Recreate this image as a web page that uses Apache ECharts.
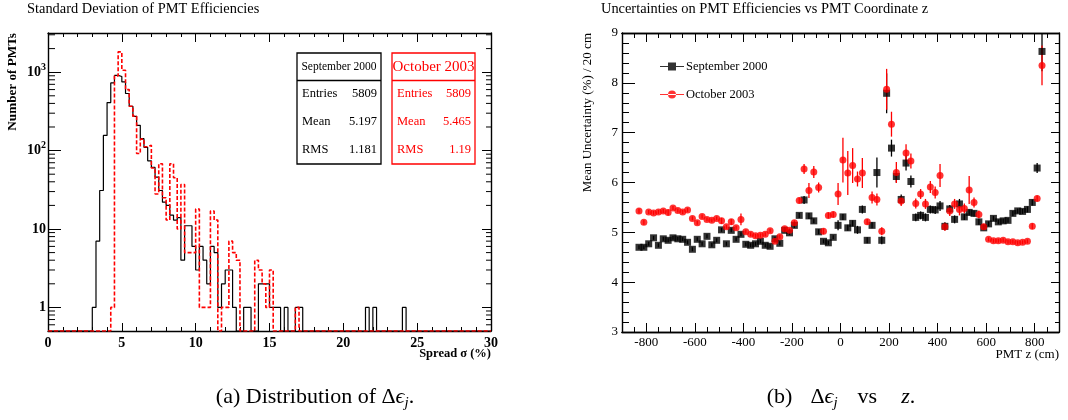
<!DOCTYPE html>
<html>
<head>
<meta charset="utf-8">
<script src="https://cdn.jsdelivr.net/npm/echarts@6/dist/echarts.min.js"></script>
<style>
  html, body { margin: 0; padding: 0; background: #fff; }
  #main { width: 1068px; height: 420px; }
</style>
</head>
<body>
<div id="main"></div>
<script>
// ---- (a) spread of PMT efficiencies, 0.25 % bins ----
const sepBinLow = [3.00, 3.25, 3.50, 3.75, 4.00, 4.25, 4.50, 4.75, 5.00, 5.25,
  5.50, 5.75, 6.00, 6.25, 6.50, 6.75, 7.00, 7.25, 7.50, 7.75,
  8.00, 8.25, 8.50, 8.75, 9.00, 9.25, 9.50, 9.75, 10.00, 10.25,
  10.50, 10.75, 11.00, 11.25, 11.50, 11.75, 12.00, 12.25, 12.50,
  13.25, 13.50, 14.25, 14.50, 14.75, 15.00, 15.25, 15.50, 16.00,
  16.75, 17.00, 21.50, 22.00, 24.00];
const sepCounts = [1, 7, 31, 156, 410, 730, 910, 880, 752, 535,
  368, 274, 210, 142, 110, 74, 61, 46, 31, 22,
  20, 15, 13, 14, 4, 11, 11, 6, 3, 6,
  4, 2, 6, 5, 1, 2, 3, 3, 1,
  1, 1, 2, 2, 2, 1, 1, 1, 1,
  1, 1, 1, 1, 1];

const octBinLow = [4.25, 4.50, 4.75, 5.00, 5.25, 5.50, 5.75, 6.00, 6.25, 6.50,
  6.75, 7.00, 7.25, 7.50, 7.75, 8.00, 8.25, 8.50, 8.75, 9.00,
  9.25, 9.50, 9.75, 10.00, 10.25, 10.50, 10.75, 11.00, 11.25, 11.50,
  11.75, 12.00, 12.25, 12.50, 12.75,
  14.00, 14.25, 14.50, 14.75, 15.00, 16.75];
const octCounts = [1, 897, 1817, 1060, 600, 368, 275, 92, 140, 112,
  117, 60, 28, 68, 25, 13, 68, 45, 10, 37,
  5, 5, 5, 18, 1, 1, 1, 17, 13, 0,
  1, 1, 7, 5, 4,
  4, 3, 2, 1, 3, 1];

const statNames = ["Entries", "Mean", "RMS"];
const sepStats = ["5809", "5.197", "1.181"];
const octStats = ["5809", "5.465", "1.19"];

// ---- (b) mean uncertainty per 20 cm slice of z ----
const zCenters = [-830, -810, -790, -770, -750, -730, -710, -690, -670, -650,
  -630, -610, -590, -570, -550, -530, -510, -490, -470, -450,
  -430, -410, -390, -370, -350, -330, -310, -290, -270, -250,
  -230, -210, -190, -170, -150, -130, -110, -90, -70, -50,
  -30, -10, 10, 30, 50, 70, 90, 110, 130, 150,
  170, 190, 210, 230, 250, 270, 290, 310, 330, 350,
  370, 390, 410, 430, 450, 470, 490, 510, 530, 550,
  570, 590, 610, 630, 650, 670, 690, 710, 730, 750,
  770, 790, 810, 830];
const sepMean = [4.70, 4.70, 4.77, 4.89, 4.74, 4.87, 4.84, 4.89, 4.87, 4.86,
  4.80, 4.66, 4.86, 4.77, 4.92, 4.75, 4.84, 5.05, 4.77, 5.04,
  4.86, 4.96, 4.76, 4.74, 4.77, 4.82, 4.74, 4.72, 4.87, 4.78,
  5.04, 4.99, 5.14, 5.34, 5.65, 5.33, 5.23, 5.01, 4.82, 4.79,
  4.90, 5.14, 5.31, 5.09, 5.18, 5.05, 5.46, 4.84, 5.14, 6.20,
  4.84, 7.79, 6.69, 6.12, 5.66, 6.39, 6.02, 5.30, 5.34, 5.30,
  5.46, 5.45, 5.53, 5.12, 5.47, 5.26, 5.57, 5.31, 5.40, 5.38,
  5.21, 5.09, 5.17, 5.28, 5.21, 5.23, 5.24, 5.38, 5.43, 5.42,
  5.46, 5.60, 6.29, 8.63];
const sepErr = [0.04, 0.04, 0.04, 0.04, 0.04, 0.04, 0.04, 0.04, 0.04, 0.04,
  0.04, 0.04, 0.04, 0.04, 0.04, 0.04, 0.04, 0.04, 0.04, 0.04,
  0.04, 0.04, 0.04, 0.04, 0.04, 0.04, 0.04, 0.04, 0.04, 0.04,
  0.04, 0.04, 0.05, 0.05, 0.08, 0.06, 0.05, 0.05, 0.04, 0.04,
  0.04, 0.10, 0.06, 0.06, 0.06, 0.08, 0.08, 0.06, 0.06, 0.30,
  0.08, 0.40, 0.17, 0.12, 0.10, 0.15, 0.12, 0.08, 0.08, 0.08,
  0.08, 0.08, 0.10, 0.08, 0.08, 0.08, 0.10, 0.06, 0.06, 0.06,
  0.06, 0.05, 0.05, 0.05, 0.05, 0.05, 0.05, 0.05, 0.05, 0.05,
  0.06, 0.06, 0.10, 0.40];
const octMean = [5.43, 5.20, 5.41, 5.39, 5.41, 5.43, 5.40, 5.49, 5.44, 5.41,
  5.45, 5.28, 5.19, 5.32, 5.26, 5.24, 5.28, 5.23, 5.11, 5.21,
  5.09, 5.26, 5.01, 4.96, 4.93, 4.94, 4.96, 5.03, 4.82, 4.91,
  5.07, 5.04, 5.19, 5.64, 6.27, 5.84, 6.21, 5.90, 5.02, 5.34,
  5.36, 5.77, 6.45, 6.19, 6.34, 6.07, 6.19, 5.21, 5.70, 5.66,
  5.02, 7.87, 7.17, 6.20, 5.63, 6.59, 6.43, 5.58, 5.77, 5.57,
  5.91, 5.80, 6.14, 5.11, 5.43, 5.57, 5.46, 5.48, 5.85, 5.60,
  5.36, 5.11, 4.86, 4.83, 4.83, 4.84, 4.81, 4.81, 4.79, 4.80,
  4.82, 5.12, 5.68, 8.35];
const octErr = [0.05, 0.05, 0.04, 0.04, 0.04, 0.04, 0.06, 0.04, 0.04, 0.04,
  0.04, 0.04, 0.04, 0.04, 0.04, 0.04, 0.04, 0.06, 0.04, 0.06,
  0.04, 0.12, 0.04, 0.04, 0.04, 0.04, 0.04, 0.04, 0.04, 0.04,
  0.04, 0.04, 0.05, 0.06, 0.10, 0.15, 0.12, 0.10, 0.06, 0.06,
  0.06, 0.22, 0.45, 0.44, 0.35, 0.15, 0.30, 0.06, 0.12, 0.12,
  0.08, 0.41, 0.25, 0.21, 0.10, 0.18, 0.15, 0.10, 0.10, 0.10,
  0.12, 0.12, 0.23, 0.08, 0.10, 0.10, 0.12, 0.10, 0.28, 0.10,
  0.08, 0.06, 0.04, 0.04, 0.04, 0.04, 0.04, 0.04, 0.04, 0.04,
  0.04, 0.06, 0.06, 0.40];

const zMajorTicks = [-800, -600, -400, -200, 0, 200, 400, 600, 800];

const SERIF = "'Liberation Serif', 'DejaVu Serif', serif";
const BIN_W = 0.25;
const N_BINS = 120;
const Y_MIN = 0.5;            // empty bins sit on the frame bottom
const Y_MAX = 3162;

// step line through the bin edges; empty bins go to the bottom of the log axis
function stepData(lows, counts) {
  const full = [];
  for (let i = 0; i < N_BINS; i++) full.push(0);
  lows.forEach((x, i) => { full[Math.round(x / BIN_W)] = counts[i]; });
  const pts = full.map((c, i) => [i * BIN_W, c > 0 ? c : Y_MIN]);
  pts.push([N_BINS * BIN_W, pts[N_BINS - 1][1]]);
  return pts;
}

// 2..9 x 10^n minor ticks for the log axis
const logMinor = [];
for (let d = -1; d <= 3; d++) {
  for (let m = 2; m <= 9; m++) {
    const v = m * Math.pow(10, d);
    if (v > Y_MIN && v < Y_MAX) logMinor.push([0, v]);
  }
}

const frame = { show: true, onZero: false, lineStyle: { color: "#000", width: 1.4 } };
const tickStyle = { color: "#000", width: 1 };

function errBars(color) {
  return function (params, api) {
    const z = api.value(0), v = api.value(1), e = api.value(2);
    const a = api.coord([z, v + e]);
    const b = api.coord([z, v - e]);
    return {
      type: "line",
      shape: { x1: a[0], y1: a[1], x2: b[0], y2: b[1] },
      style: { stroke: color, lineWidth: 1.3 }
    };
  };
}

function logLabel(v) {
  const p = Math.round(Math.log10(v) * 1000) / 1000;
  if (Math.abs(p - Math.round(p)) > 1e-6) return "";
  if (p === 0) return "{b|1}";
  if (p === 1) return "{b|10}";
  return "{b|10}{sup|" + p + "}";
}

let chart = echarts.init(document.getElementById("main"), null, { renderer: "canvas" });

let option = {
  animation: false,
  backgroundColor: "#fff",
  grid: [
    { left: 48, top: 33, width: 443, height: 298, containLabel: false, outerBoundsMode: "none" },
    { left: 622, top: 33, width: 437, height: 299, containLabel: false, outerBoundsMode: "none" }
  ],
  xAxis: [
    { // 0: (a) bottom
      gridIndex: 0, type: "value", position: "bottom", min: 0, max: 30, interval: 5,
      axisLine: frame,
      axisTick: { inside: true, length: 8, lineStyle: tickStyle },
      minorTick: { show: true, splitNumber: 5, length: 4, lineStyle: tickStyle },
      axisLabel: { fontFamily: SERIF, fontWeight: "bold", fontSize: 14, color: "#000", margin: 5 },
      splitLine: { show: false }
    },
    { // 1: (a) top
      gridIndex: 0, type: "value", position: "top", min: 0, max: 30, interval: 5,
      axisLine: frame,
      axisTick: { inside: true, length: 9, lineStyle: tickStyle },
      minorTick: { show: true, splitNumber: 5, length: 4, lineStyle: tickStyle },
      axisLabel: { show: false },
      splitLine: { show: false }
    },
    { // 2: (b) bottom, 50 cm ticks
      gridIndex: 1, type: "value", position: "bottom", min: -900, max: 900, interval: 50,
      axisLine: frame,
      axisTick: { inside: true, length: 5, lineStyle: tickStyle },
      axisLabel: { show: false },
      splitLine: { show: false }
    },
    { // 3: (b) bottom, labelled ticks
      gridIndex: 1, type: "value", position: "bottom", min: -900, max: 900, interval: 100,
      axisLine: frame,
      axisTick: { inside: true, length: 9, lineStyle: tickStyle, customValues: zMajorTicks },
      axisLabel: { fontFamily: SERIF, fontSize: 13, color: "#000", margin: 4, customValues: zMajorTicks },
      splitLine: { show: false }
    },
    { // 4: (b) top, 50 cm ticks
      gridIndex: 1, type: "value", position: "top", min: -900, max: 900, interval: 50,
      axisLine: frame,
      axisTick: { inside: true, length: 5, lineStyle: tickStyle },
      axisLabel: { show: false },
      splitLine: { show: false }
    },
    { // 5: (b) top, long ticks
      gridIndex: 1, type: "value", position: "top", min: -900, max: 900, interval: 100,
      axisLine: frame,
      axisTick: { inside: true, length: 9, lineStyle: tickStyle, customValues: zMajorTicks },
      axisLabel: { show: false },
      splitLine: { show: false }
    }
  ],
  yAxis: [
    { // 0: (a) log left
      gridIndex: 0, type: "log", logBase: 10, position: "left", min: Y_MIN, max: Y_MAX,
      axisLine: frame,
      axisTick: { inside: true, length: 13, lineStyle: tickStyle },
      axisLabel: {
        margin: 2, formatter: logLabel,
        rich: {
          b: { fontFamily: SERIF, fontWeight: "bold", fontSize: 14, color: "#000", lineHeight: 20 },
          sup: { fontFamily: SERIF, fontWeight: "bold", fontSize: 10, color: "#000", lineHeight: 10, verticalAlign: "top" }
        }
      },
      splitLine: { show: false }
    },
    { // 1: (a) log right
      gridIndex: 0, type: "log", logBase: 10, position: "right", min: Y_MIN, max: Y_MAX,
      axisLine: frame,
      axisTick: { inside: true, length: 9, lineStyle: tickStyle },
      axisLabel: { show: false },
      splitLine: { show: false }
    },
    { // 2: (b) left
      gridIndex: 1, type: "value", position: "left", min: 3, max: 9, interval: 1,
      axisLine: frame,
      axisTick: { inside: true, length: 13, lineStyle: tickStyle },
      minorTick: { show: true, splitNumber: 5, length: 7, lineStyle: tickStyle },
      axisLabel: { fontFamily: SERIF, fontSize: 13, color: "#000", margin: 4 },
      splitLine: { show: false }
    },
    { // 3: (b) right
      gridIndex: 1, type: "value", position: "right", min: 3, max: 9, interval: 1,
      axisLine: frame,
      axisTick: { inside: true, length: 8, lineStyle: tickStyle },
      minorTick: { show: true, splitNumber: 5, length: 4, lineStyle: tickStyle },
      axisLabel: { show: false },
      splitLine: { show: false }
    }
  ],
  legend: {
    orient: "vertical", left: 660, top: 60, padding: 0, itemGap: 15,
    itemWidth: 24, itemHeight: 8,
    textStyle: { fontFamily: SERIF, fontSize: 12.5, color: "#000", padding: [0, 0, 0, -3] },
    data: [
      { name: "September 2000", icon: "path://M0,3.4H24V4.6H0Z M8,0H16V8H8Z" },
      { name: "October 2003", icon: "path://M0,3.4H24V4.6H0Z M8,4A4,4 0 1,0 16,4A4,4 0 1,0 8,4Z" }
    ],
    selectedMode: false
  },
  series: [
    {
      name: "sep-hist", type: "line", xAxisIndex: 0, yAxisIndex: 0,
      step: "end", symbol: "none", silent: true, z: 3,
      lineStyle: { color: "#000", width: 1.2 },
      data: stepData(sepBinLow, sepCounts)
    },
    {
      name: "oct-hist", type: "line", xAxisIndex: 0, yAxisIndex: 0,
      step: "end", symbol: "none", silent: true, z: 4,
      lineStyle: { color: "#ff0000", width: 1.6, type: [4, 2] },
      data: stepData(octBinLow, octCounts)
    },
    {
      name: "log-minor", type: "custom", xAxisIndex: 0, yAxisIndex: 0, silent: true, z: 5,
      renderItem: function (params, api) {
        const v = api.value(1);
        const l = api.coord([0, v]);
        const r = api.coord([30, v]);
        return {
          type: "group",
          children: [
            { type: "line", shape: { x1: l[0], y1: l[1], x2: l[0] + 7, y2: l[1] }, style: { stroke: "#000", lineWidth: 1 } },
            { type: "line", shape: { x1: r[0] - 5, y1: r[1], x2: r[0], y2: r[1] }, style: { stroke: "#000", lineWidth: 1 } }
          ]
        };
      },
      data: logMinor
    },
    {
      name: "sep-err", type: "custom", xAxisIndex: 3, yAxisIndex: 2, silent: true, clip: true,
      renderItem: errBars("#000"),
      encode: { x: 0, y: 1 },
      data: zCenters.map((z, i) => [z, sepMean[i], sepErr[i]])
    },
    {
      name: "September 2000", type: "scatter", xAxisIndex: 3, yAxisIndex: 2,
      symbol: "rect", symbolSize: 7, itemStyle: { color: "#000" },
      data: zCenters.map((z, i) => [z, sepMean[i]])
    },
    {
      name: "oct-err", type: "custom", xAxisIndex: 3, yAxisIndex: 2, silent: true, clip: true,
      renderItem: errBars("#ff0000"),
      encode: { x: 0, y: 1 },
      data: zCenters.map((z, i) => [z, octMean[i], octErr[i]])
    },
    {
      name: "October 2003", type: "scatter", xAxisIndex: 3, yAxisIndex: 2,
      symbol: "circle", symbolSize: 7, itemStyle: { color: "#ff0000" },
      data: zCenters.map((z, i) => [z, octMean[i]])
    }
  ],
  graphic: []
};

// titles, axis names, stat boxes, captions
const g = option.graphic;
function txt(text, x, y, opts) {
  g.push({
    type: "text", x: x, y: y, rotation: (opts && opts.rotation) || 0, silent: true,
    style: Object.assign({
      text: text, fontFamily: SERIF, fontSize: 12.5, fill: "#000",
      textAlign: "left", textVerticalAlign: "middle"
    }, opts && opts.style)
  });
}
txt("Standard Deviation of PMT Efficiencies", 27, 9, { style: { fontSize: 14.4 } });
txt("Number of PMTs", 13, 33, { rotation: Math.PI / 2, style: { textAlign: "right", fontWeight: "bold", fontSize: 13.2 } });
txt("Spread \u03c3 (%)", 491, 354, { style: { textAlign: "right", fontWeight: "bold" } });
txt("Uncertainties on PMT Efficiencies vs PMT Coordinate z", 601, 9, { style: { fontSize: 14.4 } });
txt("Mean Uncertainty (%) / 20 cm", 588, 33, { rotation: Math.PI / 2, style: { textAlign: "right", fontSize: 13 } });
txt("PMT z (cm)", 1059, 355, { style: { textAlign: "right", fontSize: 13 } });

function statBox(x, w, title, titleSize, values, color) {
  g.push({ type: "rect", silent: true, shape: { x: x, y: 53, width: w, height: 111 },
    style: { fill: "#fff", stroke: color, lineWidth: 1.3 }, z: 10 });
  g.push({ type: "line", silent: true, shape: { x1: x, y1: 80.5, x2: x + w, y2: 80.5 },
    style: { stroke: color, lineWidth: 1.3 }, z: 11 });
  g.push({ type: "text", silent: true, x: x + w / 2, y: 67, z: 11,
    style: { text: title, fontFamily: SERIF, fontSize: titleSize, fill: color, textAlign: "center", textVerticalAlign: "middle" } });
  statNames.forEach((n, i) => {
    const y = 93.5 + i * 28;
    g.push({ type: "text", silent: true, x: x + 5, y: y, z: 11,
      style: { text: n, fontFamily: SERIF, fontSize: 12.5, fill: color, textAlign: "left", textVerticalAlign: "middle" } });
    g.push({ type: "text", silent: true, x: x + w - 4, y: y, z: 11,
      style: { text: values[i], fontFamily: SERIF, fontSize: 12.5, fill: color, textAlign: "right", textVerticalAlign: "middle" } });
  });
}
statBox(297, 84, "September 2000", 11.5, sepStats, "#000");
statBox(392, 83, "October 2003", 15, octStats, "#ff0000");

const capRich = {
  n: { fontFamily: SERIF, fontSize: 22, fill: "#000", lineHeight: 28 },
  i: { fontFamily: SERIF, fontSize: 22, fontStyle: "italic", fill: "#000", lineHeight: 28 },
  s: { fontFamily: SERIF, fontSize: 15, fontStyle: "italic", fill: "#000", lineHeight: 15, verticalAlign: "bottom" },
  g1: { width: 18, lineHeight: 28 },
  g2: { width: 20, lineHeight: 28 },
  g3: { width: 24, lineHeight: 28 }
};
g.push({ type: "text", silent: true, x: 315, y: 397,
  style: { text: "{n|(a) Distribution of \u0394}{i|\u03f5}{s|j}{n|.}", rich: capRich, textAlign: "center", textVerticalAlign: "middle" } });
g.push({ type: "text", silent: true, x: 841, y: 397,
  style: { text: "{n|(b)}{g1| }{n|\u0394}{i|\u03f5}{s|j}{g2| }{n|vs}{g3| }{i|z}{n|.}", rich: capRich, textAlign: "center", textVerticalAlign: "middle" } });

chart.setOption(option);
</script>
</body>
</html>
